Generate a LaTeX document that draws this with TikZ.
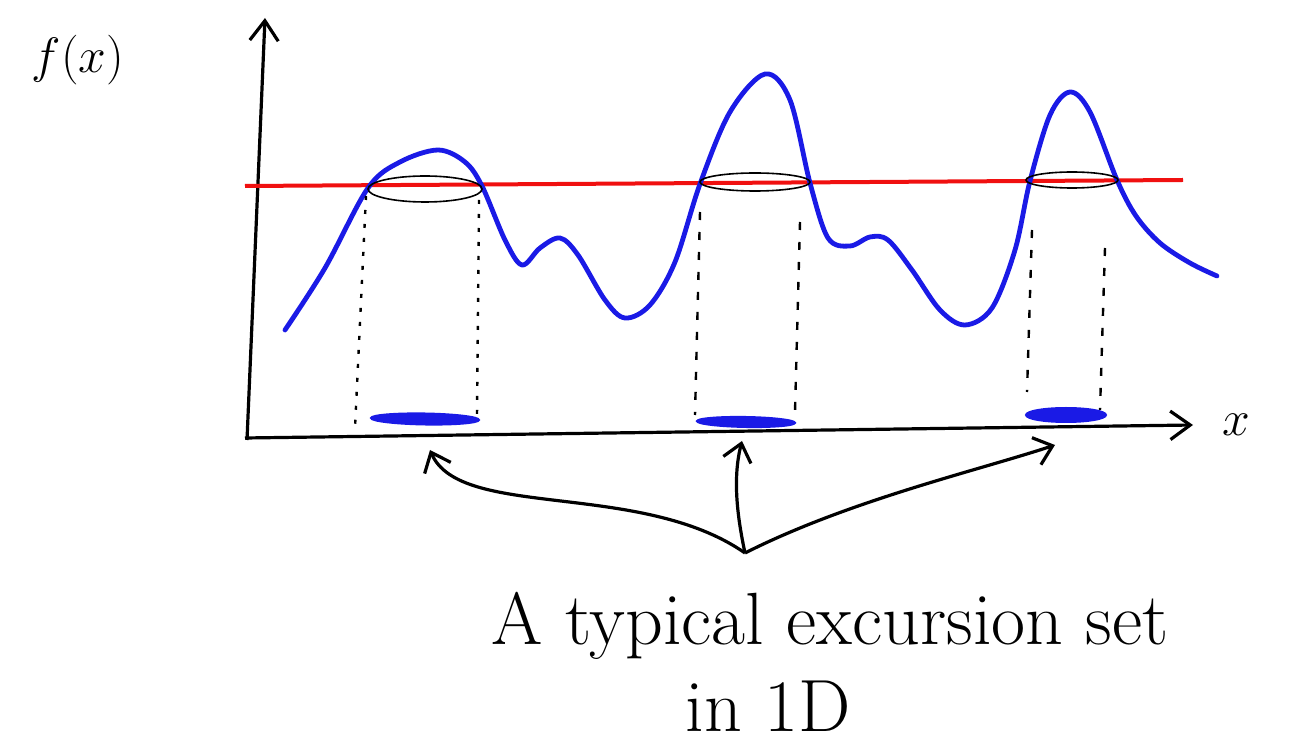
\documentclass[tikz,border=0pt]{standalone}
\usepackage{xcolor}
\usepackage{tikz}
\usetikzlibrary{arrows.meta,positioning}
\definecolor{curve}{HTML}{1A1AE6}
\definecolor{level}{HTML}{F01010}

\begin{document}
\begin{tikzpicture}[x=0.5pt,y=-0.5pt,
  ax/.style={line width=1.6pt,-{Straight Barb[length=3.5mm,width=5mm,line width=1.6pt]}},
  fn/.style={curve,line width=2.4pt,line cap=round,line join=round},
  ring/.style={draw=black,line width=0.8pt},
  drop/.style={black,line width=1.2pt,dash pattern=on 4pt off 6pt},
  excur/.style={fill=curve,draw=curve,line width=1pt},
  poke/.style={line width=1.6pt,-{Straight Barb[length=3mm,width=5mm,line width=1.6pt]}},
  hand/.style={font=\fontsize{37}{44}\selectfont,inner sep=1pt}]
  \useasboundingbox (0,0) rectangle (1298,748);
  % axes
  \coordinate (o) at (247,440);
  \coordinate (ytop) at (265,18);
  \coordinate (xend) at (1193,425);
  \draw[ax] (o) -- (ytop);
  \draw[ax] (245,438) -- (xend);
  \node[font=\fontsize{30}{36}\selectfont] (fx) at (78,60) {$f(x)$};
  \node[font=\fontsize{30}{36}\selectfont,right=4mm of xend] (xl) {$x$};
  % level line
  \draw[level,line width=2pt] (245,186) -- (1183,180);
  % the field
  \draw[fn] plot[smooth,tension=0.55] coordinates {
    (285,330) (325,268) (368,188) (400,162) (438,150) (465,162)
    (482,186) (505,240) (522,265) (540,248) (560,238) (578,255)
    (605,300) (625,318) (650,305) (675,262) (700,184) (730,112)
    (765,74) (790,100) (810,183) (828,238) (850,246) (870,237)
    (888,240) (912,270) (940,310) (965,325) (992,308) (1015,250)
    (1030,181) (1050,115) (1070,92) (1090,112) (1117,180) (1136,216)
    (1160,243) (1190,263) (1217,276)};
  % crossing rings
  \draw[ring] (425,189) ellipse [x radius=57,y radius=13];
  \draw[ring] (755,182) ellipse [x radius=55,y radius=9];
  \draw[ring] (1072,180) ellipse [x radius=46,y radius=8];
  % drop lines
  \draw[drop,dash pattern=on 2pt off 5pt] (366,196) -- (355,428);
  \draw[drop,dash pattern=on 2pt off 5pt] (479,200) -- (477,416);
  \draw[drop] (700,212) -- (695,415);
  \draw[drop] (800,222) -- (795,412);
  \draw[drop] (1032,230) -- (1027,392);
  \draw[drop] (1105,248) -- (1100,410);
  % excursion sets
  \coordinate (s1) at (425,419);
  \coordinate (s2) at (746,422);
  \coordinate (s3) at (1066,415);
  \draw[excur,rotate around={-1:(s1)}] (s1) ellipse [x radius=54,y radius=5.5];
  \draw[excur,rotate around={-1:(s2)}] (s2) ellipse [x radius=49,y radius=5];
  \draw[excur] (s3) ellipse [x radius=40,y radius=7];
  % pointer
  \coordinate (src) at (745,553);
  \draw[poke] (src) .. controls (640,480) and (460,520) .. (430,450);
  \draw[poke] (src) .. controls (738,520) and (732,480) .. (742,441);
  \draw[poke] (src) .. controls (850,500) and (980,470) .. (1055,445);
  \node[hand] (lab) at (830,626) {A typical excursion set};
  \node[hand] (dim) at (768,706) {in 1D};
\end{tikzpicture}
\end{document}
